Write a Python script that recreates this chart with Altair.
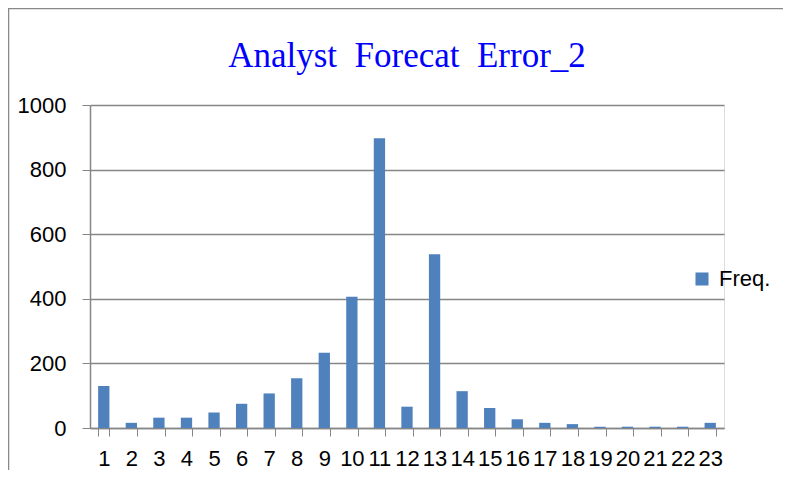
import altair as alt
import pandas as pd

categories = [str(i) for i in range(1, 24)]
freq = [130, 16, 32, 32, 48, 75, 107, 154, 233, 406, 897, 66, 538, 114, 62, 27, 16, 12, 4, 4, 4, 4, 16]
series_name = "Freq."
title_text = "Analyst\u00a0 Forecat\u00a0 Error_2"

df = pd.DataFrame({"cat": categories, "value": freq, "series": [series_name] * len(categories)})

PW, PH = 634, 323
PL, PT = 82, 97
PR, PB = 59, 42

bars = alt.Chart(df).mark_bar(color="#4F81BD").encode(
    x=alt.X("cat:N", sort=categories,
            scale=alt.Scale(paddingInner=0.59, paddingOuter=0.295),
            axis=alt.Axis(title=None, labelAngle=0, tickBand="extent", labelFont="Liberation Sans",
                          labelFontSize=22, labelColor="#000000", labelPadding=12, tickSize=8,
                          tickColor="#868686", domainColor="#868686", domainWidth=1.5, grid=False)),
    y=alt.Y("value:Q", scale=alt.Scale(domain=[0, 1000], nice=False),
            axis=alt.Axis(title=None, values=[0, 200, 400, 600, 800, 1000], format="d",
                          labelFont="Liberation Sans",
                          labelFontSize=22, labelColor="#000000", labelPadding=16, tickSize=8,
                          tickColor="#868686", domainColor="#868686", domainWidth=1.5,
                          gridColor="#868686", gridWidth=1.5)),
    fill=alt.Fill("series:N", scale=alt.Scale(range=["#4F81BD"]),
                  legend=alt.Legend(title=None, orient="none", legendX=601, legendY=163,
                                    symbolType="square", symbolSize=170, symbolStrokeWidth=0,
                                    labelFont="Liberation Sans", labelFontSize=22, labelColor="#000000",
                                    padding=0, labelOffset=6)),
)

frame = alt.Chart(pd.DataFrame({"k": [0]})).mark_rect(fill=None, stroke="#888888", strokeWidth=2.5).encode(
    x=alt.value(-PL), x2=alt.value(PW + PR + 30), y=alt.value(-PT), y2=alt.value(PH + PB + 30)
)

chart = alt.layer(frame, bars).properties(
    width=PW, height=PH,
    title=alt.TitleParams(title_text, font="Liberation Serif", fontSize=35, fontWeight="normal",
                          color="#0000FF", anchor="middle", frame="group", offset=-67),
    autosize=alt.AutoSizeParams(type="none"),
    padding={"left": PL, "top": PT, "right": PR, "bottom": PB},
).configure_view(stroke=None).configure(background="#ffffff")

chart.save("out.html", embed_options={"renderer": "svg", "actions": False})
